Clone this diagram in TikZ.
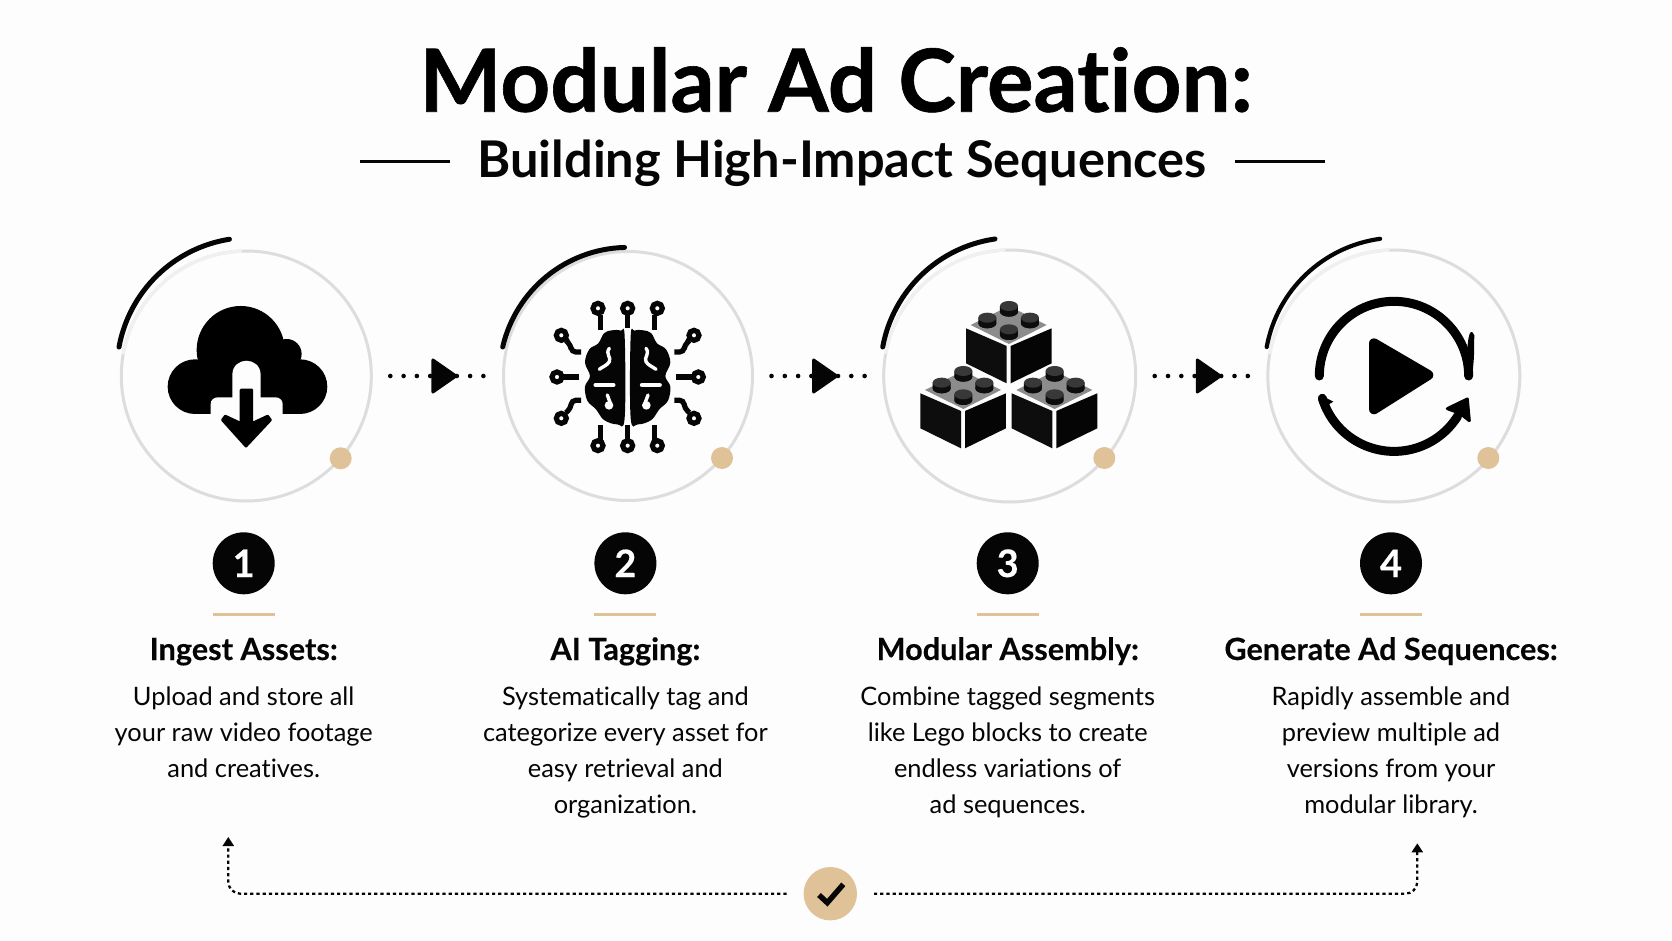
\documentclass[tikz,border=0pt]{standalone}
\usepackage{fontspec}
\setmainfont{Lato}[Ligatures=NoCommon]
\newfontfamily\heavyfont{Lato}[Ligatures=NoCommon,BoldFeatures={FakeBold=0.7}]
\newfontfamily\semiheavy{Lato}[Ligatures=NoCommon,BoldFeatures={FakeBold=0.25}]
\usetikzlibrary{arrows.meta}
\definecolor{tan}{HTML}{E0C298}
\definecolor{ringgray}{HTML}{DDDDDD}
\definecolor{ringpale}{HTML}{F0F0F0}
\definecolor{ink}{HTML}{050505}
\definecolor{paper}{HTML}{FDFDFD}
\tikzset{
  zoomed/.style 2 args={shift={(#1,-#2)},x=.3333pt,y=-.3333pt},
  ring/.style={circle,draw=ringgray,line width=3pt,inner sep=0pt,minimum size=#1,outer sep=19pt},
  sweep/.style={draw=ink,line width=5pt,line cap=round},
  accent/.style={circle,fill=tan,inner sep=0pt,minimum size=22pt},
  flow/.style={draw=ink,line width=4.6pt,line cap=round,dash pattern=on 0pt off 13.3pt},
  flowhead/.style={fill=ink,draw=ink,line width=3pt,line join=round},
  badge/.style={circle,fill=ink,text=white,inner sep=0pt,minimum size=62pt,font=\fontsize{38}{38}\selectfont\semiheavy\bfseries},
  tanrule/.style={fill=tan,inner sep=0pt,minimum width=62pt,minimum height=3pt},
  heading/.style={anchor=base,inner sep=0pt,text=ink,font=\fontsize{30.65}{36}\selectfont\semiheavy\bfseries},
  body/.style={anchor=base,inner sep=0pt,align=center,text=ink,font=\fontsize{25.4}{36}\selectfont},
  loopline/.style={draw=ink,line width=2.3pt,dash pattern=on 3.2pt off 3pt,rounded corners=12pt,-{Triangle[length=9pt,width=11pt]}},
  wire/.style={draw=ink,line width=5.2pt},
  pin/.style={draw=ink,fill=white,line width=5.2pt},
  crease/.style={draw=white,line width=1.7pt,line cap=round,line join=round},
}
\newcommand\brainhalf{%
  \fill[ink] plot[smooth cycle,tension=.6] coordinates{(284,170)(272,152)(245,151)(222,160)(205,190)(178,208)(165,248)(180,288)(165,320)(172,362)(198,388)(222,420)(262,433)(284,414)};
  \draw[crease,line width=3.4pt] (238,205) .. controls (225,222) and (245,232) .. (238,245) .. controls (232,256) and (218,260) .. (208,268);
  \draw[crease,line width=4.4pt] (197,315) -- (250,315);
  \draw[crease,line width=3.4pt] (232,345) .. controls (232,355) and (242,362) .. (240,372);
  \fill[white] (237,376) circle[radius=13];
  \draw[wire] (212,105) -- (212,150);
  \draw[wire] (212,435) -- (212,480);
  \draw[wire] (148,291) -- (100,291);
  \draw[wire,rounded corners=4pt] (153,216) -- (125,216) -- (122,195) -- (108,182);
  \draw[wire,rounded corners=4pt] (153,361) -- (125,361) -- (122,385) -- (108,398);
  \draw[pin] (204,85) circle[radius=15];
  \draw[pin] (204,497) circle[radius=15];
  \draw[pin] (81,291) circle[radius=15];
  \draw[pin] (94,166) circle[radius=15];
  \draw[pin] (94,415) circle[radius=15];
}
\newcommand\legostud[2]{%
  \fill[black!95] (#1-27,#2-7) -- (#1-27,#2+10) arc[start angle=180,end angle=0,x radius=27,y radius=15] -- (#1+27,#2-7) -- cycle;
  \fill[black!95] (#1,#2+10) ellipse[x radius=27,y radius=15];
  \fill[black!78] (#1,#2-7) ellipse[x radius=27,y radius=15];
}
\newcommand\legobrick{%
  \fill[black!45] (332,315) -- (447,258) -- (560,315) -- (447,372) -- cycle;
  \fill[black!95] (318,325) -- (440,378) -- (440,490) -- (318,430) -- cycle;
  \fill[black!98] (452,378) -- (575,325) -- (575,430) -- (452,490) -- cycle;
  \legostud{447}{265}\legostud{382}{300}\legostud{510}{300}\legostud{447}{335}
}
\begin{document}
\begin{tikzpicture}[x=1pt,y=1pt]
\useasboundingbox (0,0) rectangle (1672,-941);
\fill[paper] (0,0) rectangle (1672,-941);

% title
\node[anchor=base,inner sep=0pt,text=black,font=\fontsize{87}{87}\selectfont\heavyfont\bfseries] (title) at (836,-111.7) {Modular Ad Creation:};
\node[anchor=base,inner sep=0pt,text=ink,font=\fontsize{50.6}{50}\selectfont\bfseries] (subtitle) at (842,-178) {Building High-Impact Sequences};
\draw[ink,line width=3pt] (360,-161.5) -- (450,-161.5);
\draw[ink,line width=3pt] (1235,-161.5) -- (1325,-161.5);

% rings
\node[ring=250pt] (r1) at (246.3,-376) {};
\node[ring=249pt] (r2) at (628,-376) {};
\node[ring=252pt] (r3) at (1009.7,-376) {};
\node[ring=252pt] (r4) at (1393.8,-376) {};
\draw[ringpale,line width=3.2pt] (r1.center) ++(92:125) arc[start angle=92,end angle=170,radius=125];
\draw[ringpale,line width=3.2pt] (r3.center) ++(92:126) arc[start angle=92,end angle=170,radius=126];
\draw[ringpale,line width=3.2pt] (r4.center) ++(92:126) arc[start angle=92,end angle=170,radius=126];

% sweeps
\draw[sweep] (119,-347) arc[start angle=169.6,end angle=99,radius=133.5];
\draw[sweep] (502.7,-347) arc[start angle=167,end angle=91.5,radius=128.5];
\draw[sweep] (882.7,-347) arc[start angle=169.6,end angle=98.2,radius=133.5];
\draw[sweep,line width=4.2pt] (1266.7,-347) arc[start angle=169.6,end angle=97.7,radius=133.5];

% accent dots
\node[accent] (d1) at (340.7,-458.3) {};
\node[accent] (d2) at (722,-458) {};
\node[accent] (d3) at (1104.3,-458) {};
\node[accent] (d4) at (1488.3,-458) {};

% flow connectors
\draw[flow] (r1.east) -- coordinate[pos=.5] (m1) (r2.west);
\draw[flow] (r2.east) -- coordinate[pos=.5] (m2) (r3.west);
\draw[flow] (r3.east) -- coordinate[pos=.5] (m3) (r4.west);
\foreach \m in {m1,m2,m3}{
  \draw[flowhead] ([shift={(-4.5,16)}]\m) -- ([shift={(18.5,0)}]\m) -- ([shift={(-4.5,-16)}]\m) -- cycle;
}

% cloud icon
\begin{scope}[zoomed={90}{210}]
  \fill[black] (452,420) circle[radius=132];
  \fill[black] (590,432) circle[radius=45];
  \fill[black] (630,530) circle[radius=82];
  \fill[black] (315,530) circle[radius=82];
  \fill[black] (315,500) rectangle (630,612);
  \fill[paper] (362,640) -- (362,582) .. controls (362,570) and (372,562) .. (384,562) -- (427,562) -- (427,495) .. controls (427,438) and (512,438) .. (512,495) -- (512,562) -- (556,562) .. controls (568,562) and (578,570) .. (578,582) -- (578,640) -- cycle;
  \fill[black,draw=black,line width=2.5pt,line join=round] (453,540) -- (486,540) -- (486,640) -- (533,618) -- (542,630) -- (468,709) -- (397,630) -- (406,618) -- (453,640) -- cycle;
\end{scope}

% brain icon
\begin{scope}[zoomed={530}{280}]
  \brainhalf
  \begin{scope}[shift={(586,0)},xscale=-1]
    \brainhalf
  \end{scope}
  \draw[wire] (293,105) -- (293,145);
  \draw[wire] (293,435) -- (293,480);
  \draw[pin] (293,85) circle[radius=15];
  \draw[pin] (293,497) circle[radius=15];
\end{scope}

% lego icon
\begin{scope}[zoomed={860}{220}]
  \legobrick
  \begin{scope}[shift={(-137,195)}]\legobrick\end{scope}
  \begin{scope}[shift={(137,195)}]\legobrick\end{scope}
\end{scope}

% play-loop icon
\begin{scope}[zoomed={1240}{220}]
  \draw[black,line width=9pt,line cap=round] (238,468) arc[start angle=180,end angle=360,radius=224];
  \fill[black,rounded corners=2pt] (686,350) -- (692,334) -- (703,340) -- (702,410) -- (697,470) -- (672,470) -- cycle;
  \draw[black,line width=9pt,line cap=round] (247,535) arc[start angle=163,end angle=32,radius=225];
  \fill[black,draw=black,line width=3pt,line join=round] (682,537) -- (688,602) -- (660,580) -- (622,566) -- cycle;
  \fill[black] (240,525) -- (280,545) -- (255,560) -- cycle;
  \fill[black,draw=black,line width=10pt,line join=round] (402,370) -- (565,465) -- (402,568) -- cycle;
\end{scope}

% badges
\node[badge] (b1) at (243.7,-563.3) {1};
\node[badge] (b2) at (625.4,-563.3) {2};
\node[badge] (b3) at (1007.7,-563.3) {3};
\node[badge] (b4) at (1391,-563.3) {4};
\node[tanrule] (u1) at (243.7,-614) {};
\node[tanrule] (u2) at (625.4,-614) {};
\node[tanrule] (u3) at (1007.7,-614) {};
\node[tanrule] (u4) at (1391,-614) {};

% headings
\node[heading] (h1) at (243.7,-660) {Ingest Assets:};
\node[heading] (h2) at (625.4,-660) {AI Tagging:};
\node[heading] (h3) at (1007.7,-660) {Modular Assembly:};
\node[heading] (h4) at (1391,-660) {Generate Ad Sequences:};

% bodies
\node[body] (t1) at (243.7,-777) {Upload and store all\\your raw video footage\\and creatives.};
\node[body] (t2) at (625.4,-813) {Systematically tag and\\categorize every asset for\\easy retrieval and\\organization.};
\node[body] (t3) at (1007.7,-813) {Combine tagged segments\\like Lego blocks to create\\endless variations of\\ad sequences.};
\node[body] (t4) at (1391,-813) {Rapidly assemble and\\preview multiple ad\\versions from your\\modular library.};

% bottom loop
\node[circle,fill=tan,inner sep=0pt,minimum size=53.4pt,outer sep=17pt] (chk) at (830.3,-893.7) {};
\coordinate (lt) at (228.3,-837);
\coordinate (rt) at (1417.3,-843.3);
\draw[loopline] (chk.west) -| (lt);
\draw[loopline] (chk.east) -| (rt);
\draw[ink,line width=5.4pt,line join=miter] (819,-895) -- (827.3,-902.7) -- (843.3,-884.3);
\end{tikzpicture}
\end{document}
